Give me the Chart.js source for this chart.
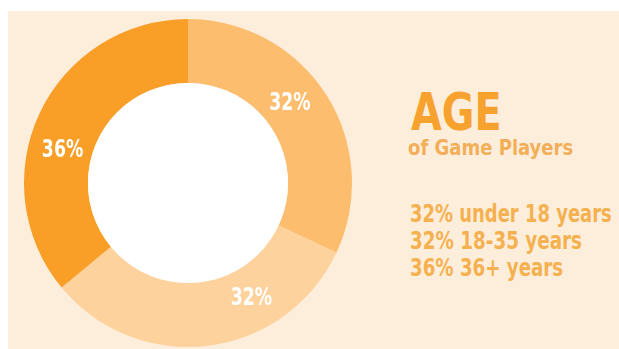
<!DOCTYPE html>
<html>
<head>
<meta charset="utf-8">
<script src="https://cdn.jsdelivr.net/npm/chart.js@4"></script>
<style>
  html, body { margin: 0; padding: 0; background: #ffffff; }
  #page { position: relative; width: 619px; height: 349px; overflow: hidden; }
  #panel { position: absolute; left: 8px; top: 11px; right: 0; bottom: 0; background: #fdeedc; }
  #donut { position: absolute; left: 24px; top: 19px; width: 328px; height: 328px; }
  .txt { position: absolute; white-space: nowrap; font-family: "DejaVu Sans Condensed", "DejaVu Sans", sans-serif; font-weight: bold; line-height: 1; transform-origin: 0 0; }
  #title { left: 411px; top: 87px; font-size: 51px; color: #f7a22f; }
  #subtitle { left: 408px; top: 138px; font-size: 21px; color: #f2ae58; }
  .row { left: 410px; font-size: 25px; color: #f5b150; }
</style>
</head>
<body>
<div id="page">
  <div id="panel"></div>
  <div id="donut"><canvas id="ageChart"></canvas></div>
  <div class="txt" id="title" data-w="91">AGE</div>
  <div class="txt" id="subtitle" data-w="165">of Game Players</div>
</div>
<script>
// age groups and their share of players (percent)
var ageGroups = ["under 18 years", "18-35 years", "36+ years"];
var shares = [32, 32, 36];
var sliceColors = ["#fdbd6e", "#fdd29d", "#f99e27"];

// legend rows on the right, built from the same arrays
var rowTops = [201, 228, 255];
var rowWidths = [202, 172, 153];
ageGroups.forEach(function (g, i) {
  var d = document.createElement("div");
  d.className = "txt row";
  d.style.top = rowTops[i] + "px";
  d.setAttribute("data-w", rowWidths[i]);
  d.textContent = shares[i] + "% " + g;
  document.getElementById("page").appendChild(d);
});

// squeeze the wide fallback font down to a condensed look
document.querySelectorAll(".txt").forEach(function (el) {
  var w = +el.getAttribute("data-w");
  el.style.transform = "scaleX(" + (w / el.offsetWidth) + ")";
});

// white hole in the middle of the ring
var holeFill = {
  id: "holeFill",
  afterDatasetsDraw: function (chart) {
    var arc = chart.getDatasetMeta(0).data[0];
    if (!arc) return;
    var ctx = chart.ctx;
    ctx.save();
    ctx.fillStyle = "#ffffff";
    ctx.beginPath();
    ctx.arc(arc.x, arc.y, arc.innerRadius, 0, Math.PI * 2);
    ctx.fill();
    ctx.restore();
  }
};

// percent labels sitting on the ring
var sliceLabels = {
  id: "sliceLabels",
  afterDatasetsDraw: function (chart, args, opts) {
    var ctx = chart.ctx;
    var values = chart.data.datasets[0].data;
    chart.getDatasetMeta(0).data.forEach(function (arc, i) {
      var p = arc.getProps(["x", "y", "startAngle", "endAngle", "innerRadius", "outerRadius"]);
      var a = (p.startAngle + p.endAngle) / 2 + (opts.shift[i] || 0) * Math.PI / 180;
      var r = (p.innerRadius + p.outerRadius) / 2 - 2;
      ctx.save();
      ctx.translate(p.x + r * Math.cos(a), p.y + r * Math.sin(a) + 2);
      ctx.scale(opts.squeeze, 1);
      ctx.fillStyle = opts.color;
      ctx.font = opts.font;
      ctx.textAlign = "center";
      ctx.textBaseline = "middle";
      ctx.fillText(values[i] + "%", 0, 0);
      ctx.restore();
    });
  }
};

var ctxD = document.getElementById("ageChart").getContext("2d");
var ageChart = new Chart(ctxD, {
  type: "doughnut",
  data: {
    labels: ageGroups,
    datasets: [{
      data: shares,
      backgroundColor: sliceColors,
      borderWidth: 0,
      hoverOffset: 0
    }]
  },
  options: {
    responsive: true,
    maintainAspectRatio: false,
    animation: false,
    cutout: "61%",
    layout: { padding: 0 },
    plugins: {
      legend: { display: false },
      tooltip: { enabled: false },
      sliceLabels: {
        color: "#ffffff",
        font: "bold 24px 'DejaVu Sans Condensed', 'DejaVu Sans', sans-serif",
        squeeze: 0.8,
        shift: [-6, -22, -10]
      }
    }
  },
  plugins: [holeFill, sliceLabels]
});
</script>
</body>
</html>
